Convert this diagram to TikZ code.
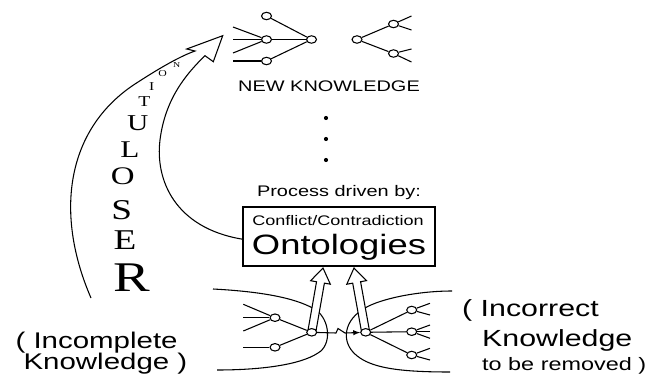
\documentclass[tikz,border=0pt]{standalone}
\usepackage{fontspec}
\setmainfont{Liberation Sans}[FakeStretch=1.3]
\newfontfamily\lettersfont{Liberation Serif}[FakeStretch=1.3]
\usepackage{tikz}
\usetikzlibrary{shapes.geometric}
\usetikzlibrary{calc}
\tikzset{every picture/.style={line width=0.8pt},
  treenode/.style={ellipse,draw,fill=white,minimum width=7.5pt,minimum height=5.6pt,inner sep=0pt},
  txt/.style={inner sep=0pt}}

% hollow block arrow from #1 to #2
\newcommand{\blockarrow}[2]{%
  \coordinate (ba-base) at ($(#2)!11pt!(#1)$);
  \filldraw[fill=white] ($(#1)!3pt!90:(#2)$) -- ($(ba-base)!3pt!-90:(#1)$) -- ($(ba-base)!7.5pt!-90:(#1)$) -- (#2)
    -- ($(ba-base)!7.5pt!90:(#1)$) -- ($(ba-base)!3pt!90:(#1)$) -- ($(#1)!3pt!-90:(#2)$) -- cycle;}

\begin{document}
\begin{tikzpicture}[x=0.75pt,y=-0.75pt]
\useasboundingbox (0,0) rectangle (649,375);

% new knowledge
\node (t1) at (266.5,16) [treenode] {};
\node (t2) at (266.5,39.5) [treenode] {};
\node (t3) at (266.5,61) [treenode] {};
\node (t4) at (311.5,39.5) [treenode] {};
\foreach \y [count=\i] in {27,39.5,53} \draw (233,\y) coordinate (tin\i) -- (t2);
\draw (233,61) coordinate (tin4) -- (t3);
\draw (t1) -- (t4);
\draw (t2) -- (t4);
\draw (t3) -- (t4);

\node (u1) at (357,39.5) [treenode] {};
\node (u2) at (393.5,24) [treenode] {};
\node (u3) at (393.5,53.5) [treenode] {};
\draw (u1) -- (u2);
\draw (u1) -- (u3);
\foreach \y [count=\i] in {16,30} \draw (u2) -- (411.5,\y) coordinate (uout\i);
\foreach \y [count=\i] in {49,62} \draw (u3) -- (411.5,\y) coordinate (uout\i);

\node (newk) at (329,86) [txt] {\fontsize{11.5}{11.5}\selectfont NEW KNOWLEDGE};
\foreach \y [count=\i] in {118,139,160} \node (dot\i) at (326,\y) [circle,fill,inner sep=1.1pt] {};

% process box
\node (proc) at (339,196) [txt,anchor=base] {\fontsize{11.5}{11.5}\selectfont Process driven by:};
\node (box) at (339,236.5) [draw,line width=1.1pt,minimum width=144pt,minimum height=44.25pt] {};
\node (confl) at (338,225) [txt,anchor=base] {\fontsize{10.4}{10.4}\selectfont Conflict/Contradiction};
\node (onto) at (339,254) [txt,anchor=base] {\fontsize{21}{21}\selectfont Ontologies};

% resolution arrow
\coordinate (rstart) at (91,298);
\coordinate (hl) at (195,51);
\coordinate (hbl) at (186.7,49);
\coordinate (htip) at (222.7,35.7);
\coordinate (hbr) at (213.3,61.7);
\coordinate (hr) at (205,55.7);
\draw (rstart) .. controls (55,215) and (65,130) .. (135,84) .. controls (155,71) and (178,57) .. (hl)
  -- (hbl) -- (htip) -- (hbr) -- (hr)
  .. controls (185,75) and (165,100) .. (160,140) .. controls (155,180) and (175,228) .. ([yshift=-2pt]box.west);

\foreach \ch/\x/\y/\s [count=\i] in {R/131.7/277.3/31.7, E/125/240/21.5, S/121.7/210/21.5, O/122.7/176.7/19,
  L/130/150/18, U/137.7/123.3/17, T/144.3/101.7/11.3, I/151.7/86.7/9, O/162.7/73.3/6.8, N/176.7/65/5.7}
  \node (res\i) at (\x,\y) [txt] {\lettersfont\fontsize{\s}{\s}\selectfont \ch};

% the two knowledge areas
\draw (213,289) .. controls (270,292) and (300,300) .. (316,310) .. controls (330,320) and (332,345) .. (318,353)
  .. controls (300,365) and (260,370) .. (217,370);
\draw (452,291) .. controls (415,291) and (375,300) .. (362,310) .. controls (343,322) and (340,345) .. (360,358)
  .. controls (375,368) and (400,372) .. (450,372);

\coordinate (bm) at (311.7,332.3);
\coordinate (cm) at (365.7,332.3);
\coordinate (tipL) at (323,268);
\coordinate (tipR) at (354,268);
\blockarrow{bm}{tipL}
\blockarrow{cm}{tipR}

% incomplete side
\node (b1) at (275,317.7) [treenode] {};
\node (b2) at (275,347.3) [treenode] {};
\node (bmid) at (bm) [treenode] {};
\foreach \y [count=\i] in {304.3,317.7,331} \draw (243.3,\y) coordinate (bin\i) -- (b1);
\draw (243.3,347.3) coordinate (bin4) -- (b2);
\draw (b1) -- (bmid);
\draw (b2) -- (bmid);

% incorrect side
\node (cmid) at (cm) [treenode] {};
\node (c1) at (411.7,310) [treenode] {};
\node (c2) at (411.7,331.7) [treenode] {};
\node (c3) at (411.7,355) [treenode] {};
\draw (cmid) -- (c1);
\draw (cmid) -- (c2);
\draw (cmid) -- (c3);
\foreach \y [count=\i] in {303.3,315} \draw (c1) -- (430,\y) coordinate (cout\i);
\foreach \y [count=\i] in {325,331.7,338.3} \draw (c2) -- (430,\y) coordinate (cmout\i);
\foreach \y [count=\i] in {348.3,360} \draw (c3) -- (430,\y) coordinate (clout\i);

\draw [-latex] (bmid) -- (336,333) -- (338,328.5) -- (345,333) -- (cmid);

\node (incl1) at (15,348) [txt,anchor=base west] {\fontsize{17}{17}\selectfont ( Incomplete};
\node (incl2) at (23,369) [txt,anchor=base west] {\fontsize{17}{17}\selectfont Knowledge )};
\node (incr1) at (461.7,316.7) [txt,anchor=base west] {\fontsize{17.5}{17.5}\selectfont ( Incorrect};
\node (incr2) at (481.7,346.7) [txt,anchor=base west] {\fontsize{17.5}{17.5}\selectfont Knowledge};
\node (incr3) at (481.7,370.7) [txt,anchor=base west] {\fontsize{13.5}{13.5}\selectfont to be removed )};
\end{tikzpicture}
\end{document}
